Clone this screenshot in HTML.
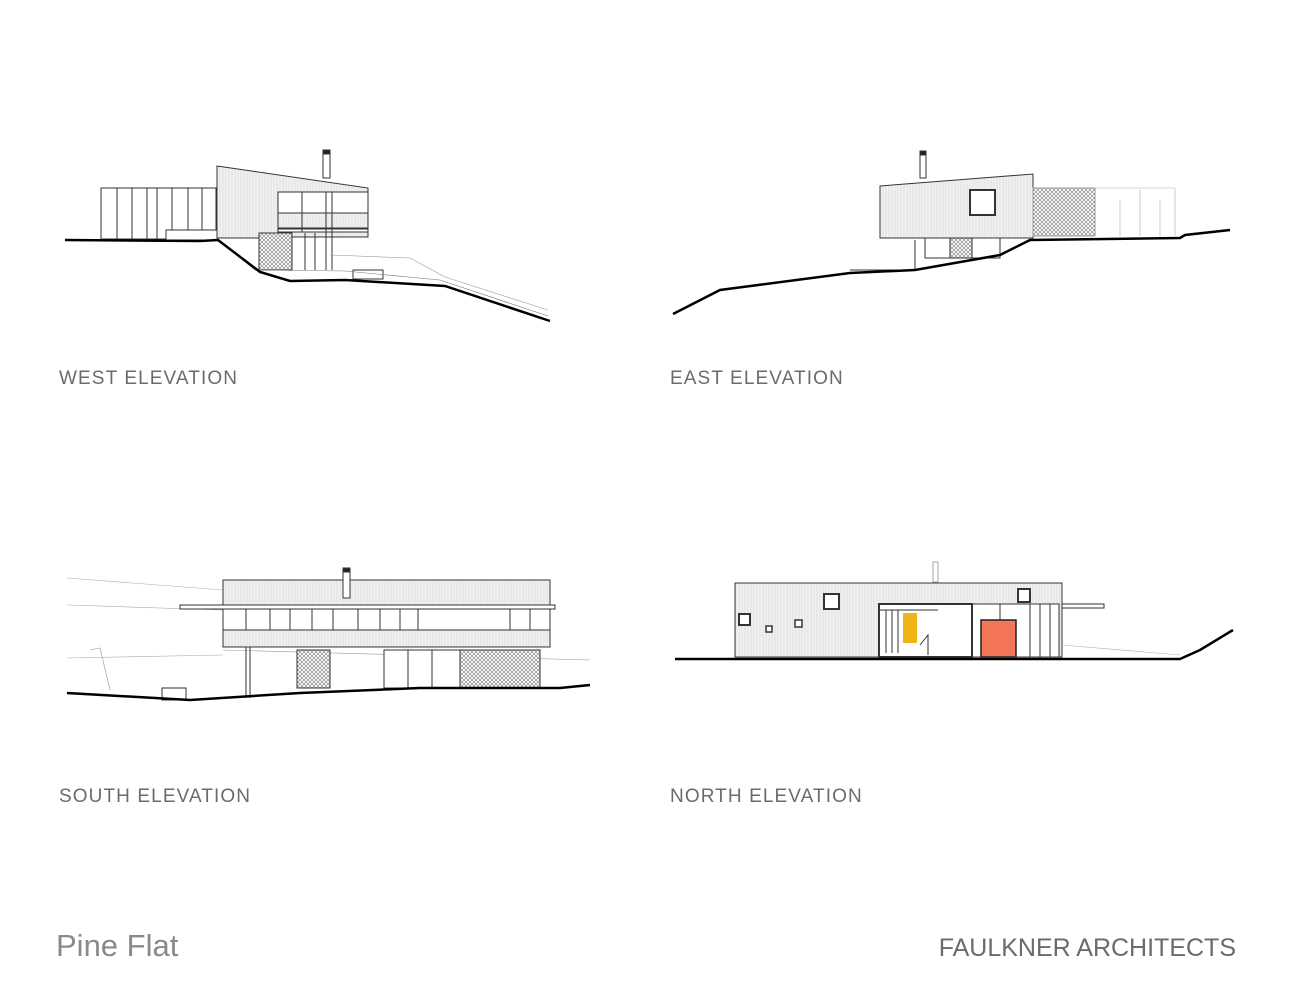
<!DOCTYPE html>
<html><head><meta charset="utf-8"><style>
body{margin:0;background:#fff;}
svg{display:block}
text{font-family:"Liberation Sans",sans-serif;fill:#6b6b6b}
</style></head><body>
<svg width="1294" height="1000" viewBox="0 0 1294 1000" xmlns="http://www.w3.org/2000/svg">
<defs>
<pattern id="st" width="3" height="10" patternUnits="userSpaceOnUse"><rect width="3" height="10" fill="#f1f1f1"/><line x1="1" y1="0" x2="1" y2="10" stroke="#d6d6d6" stroke-width="0.6"/></pattern>
<pattern id="hx" width="4" height="4" patternUnits="userSpaceOnUse"><rect width="4" height="4" fill="#fff"/><path d="M0 0L4 4M4 0L0 4" stroke="#777" stroke-width="0.6"/></pattern>
</defs>
<g stroke="#333" stroke-width="1" fill="none">
<!-- WEST -->
<rect x="101" y="188" width="115" height="51" fill="#fff"/>
<path d="M117 188V239M132 188V239M147 188V239M157 188V239M172 188V239M188 188V239M202 188V239"/>
<rect x="166" y="230" width="52" height="10" fill="#fff"/>
<polygon points="217,166 368,188 368,237 278,237 278,238 217,238" fill="url(#st)"/>
<rect x="278" y="192" width="90" height="40" fill="#fff"/>
<rect x="278" y="213" width="90" height="16" fill="url(#st)"/>
<path d="M302 192V232M326 192V270M332 192V270M278 228H368"/>
<rect x="259" y="233" width="33" height="37" fill="url(#hx)"/>
<path d="M292 233V270M305 233V270M315 233V270"/>
<rect x="323" y="150" width="7" height="28" fill="#fff"/><rect x="323" y="150" width="7" height="4" fill="#222"/>
<rect x="353" y="270" width="30" height="9" fill="#fff"/>
<path d="M330 255L410 258L445 277L548 310" stroke="#999" stroke-width="0.6"/>
<path d="M218 240L255 270L345 271L440 280L548 316" stroke="#777" stroke-width="0.6"/>
<path d="M65 240L200 241L218 240L260 272L290 281L345 280L445 286L550 321" stroke="#000" stroke-width="2.5"/>
<!-- EAST -->
<polygon points="880,186 1033,174 1033,238 880,238" fill="url(#st)"/>
<rect x="970" y="190" width="25" height="25" fill="#fff" stroke-width="2"/>
<rect x="1033" y="188" width="62" height="48" fill="url(#hx)" stroke="#999"/>
<path d="M1095 188H1175V236M1120 200V236M1140 190V236M1160 200V236" stroke="#aaa" stroke-width="0.6"/>
<rect x="920" y="151" width="6" height="27" fill="#fff"/><rect x="920" y="151" width="6" height="4" fill="#222"/>
<rect x="925" y="238" width="75" height="20" fill="#fff"/>
<rect x="950" y="238" width="22" height="20" fill="url(#hx)"/>
<path d="M850 270H915V240"/>
<path d="M673 314L720 290L850 273L915 270L1000 255L1030 240L1180 238L1185 235L1230 230" stroke="#000" stroke-width="2.5"/>
<!-- SOUTH -->
<path d="M67 578L223 590M67 605L223 610M67 658L223 655" stroke="#aaa" stroke-width="0.6"/>
<path d="M90 650L100 648L110 690M223 650L590 660" stroke="#999" stroke-width="0.6"/>
<rect x="223" y="580" width="327" height="25" fill="url(#st)"/>
<rect x="343" y="568" width="7" height="30" fill="#fff"/><rect x="343" y="568" width="7" height="4" fill="#222"/>
<rect x="180" y="605" width="375" height="4" fill="#fff"/>
<rect x="223" y="609" width="327" height="38" fill="#fff"/>
<path d="M246 609V647M270 609V647M290 609V647M312 609V647M333 609V647M358 609V647M380 609V647M400 609V647M418 609V647M510 609V647M530 609V647"/>
<rect x="223" y="630" width="327" height="17" fill="url(#st)"/>
<rect x="297" y="650" width="33" height="38" fill="url(#hx)"/>
<rect x="460" y="650" width="80" height="38" fill="url(#hx)"/>
<rect x="384" y="650" width="76" height="38" fill="#fff"/>
<path d="M408 650V688M432 650V688M246 647V698M250 647V698"/>
<rect x="162" y="688" width="24" height="12" fill="#fff"/>
<path d="M67 693L190 700L300 693L420 688L560 688L590 685" stroke="#000" stroke-width="2.5"/>
<!-- NORTH -->
<rect x="735" y="583" width="327" height="74" fill="url(#st)"/>
<rect x="1062" y="604" width="42" height="4" fill="#fff"/>
<rect x="824" y="594" width="15" height="15" fill="#fff" stroke-width="2"/>
<rect x="1018" y="589" width="12" height="13" fill="#fff" stroke-width="2"/>
<rect x="739" y="614" width="11" height="11" fill="#fff" stroke-width="2"/>
<rect x="766" y="626" width="6" height="6" fill="#fff" stroke-width="1.5"/>
<rect x="795" y="620" width="7" height="7" fill="#fff" stroke-width="1.5"/>
<rect x="879" y="604" width="180" height="53" fill="#fff"/>
<rect x="879" y="604" width="93" height="53" fill="#fff" stroke-width="2"/>
<path d="M886 610V653M892 610V653M898 610V653M972 604V657M1000 604V657M1050 604V657M1030 604V657M1040 604V657M1050 604V657M880 610H938"/>
<rect x="903" y="613" width="14" height="30" fill="#f0b416" stroke="none"/>
<rect x="981" y="620" width="35" height="37" fill="#f47658" stroke="#222" stroke-width="1.5"/>
<path d="M920 645L928 635V655"/>
<rect x="933" y="562" width="5" height="20" fill="#fff" stroke="#aaa"/>
<path d="M1062 645L1180 655" stroke="#aaa" stroke-width="0.6"/>
<path d="M675 659L1180 659L1200 650L1233 630" stroke="#000" stroke-width="2.5"/>
</g>
<text x="59" y="384" font-size="19" letter-spacing="1.1">WEST ELEVATION</text>
<text x="670" y="384" font-size="19" letter-spacing="1.1">EAST ELEVATION</text>
<text x="59" y="802" font-size="19" letter-spacing="1.1">SOUTH ELEVATION</text>
<text x="670" y="802" font-size="19" letter-spacing="1.1">NORTH ELEVATION</text>
<text x="56" y="956" font-size="31" style="fill:#8a8a8a">Pine Flat</text>
<text x="1236" y="956" font-size="25" text-anchor="end" letter-spacing="0">FAULKNER ARCHITECTS</text>
</svg>
</body></html>
